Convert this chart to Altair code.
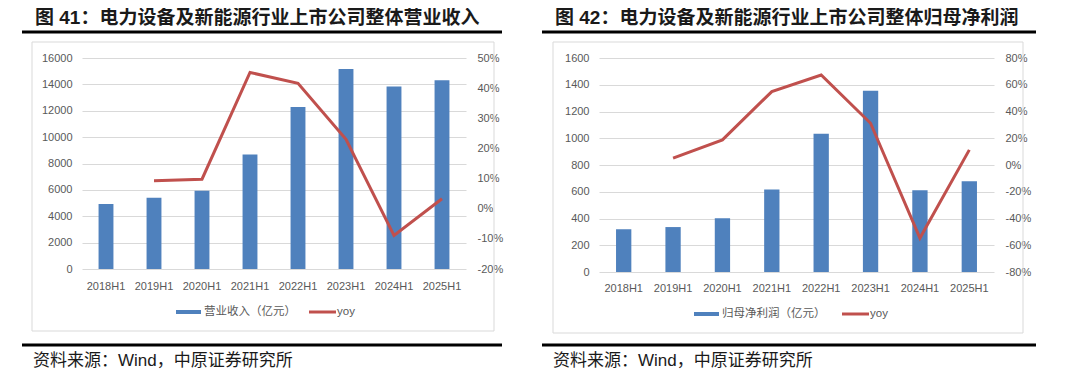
import altair as alt
import pandas as pd

# ---- data ----
periods = ["2018H1", "2019H1", "2020H1", "2021H1", "2022H1", "2023H1", "2024H1", "2025H1"]
revenue = [4930, 5410, 5940, 8690, 12290, 15160, 13840, 14320]
revenue_yoy = [None, 0.093, 0.098, 0.452, 0.416, 0.230, -0.089, 0.033]
profit = [319, 336, 401, 617, 1033, 1356, 612, 679]
profit_yoy = [None, 0.051, 0.188, 0.549, 0.673, 0.312, -0.546, 0.113]

title_1 = "图 41：电力设备及新能源行业上市公司整体营业收入"
title_2 = "图 42：电力设备及新能源行业上市公司整体归母净利润"
bar_name_1 = "营业收入（亿元）"
bar_name_2 = "归母净利润（亿元）"
line_name = "yoy"
source_text = "资料来源：Wind，中原证券研究所"

left_ticks_1 = list(range(0, 16001, 2000))
right_ticks_1 = [round(v / 10, 1) for v in range(-2, 6)]
left_ticks_2 = list(range(0, 1601, 200))
right_ticks_2 = [round(v / 10, 1) for v in range(-8, 9, 2)]

BLUE = "#4F81BD"
RED = "#C0504D"
GRID = "#D9D9D9"
LABEL = "#595959"
LATIN = "Liberation Sans"
MIXED = "Liberation Sans, Noto Sans CJK SC"
CJK = "Noto Sans CJK SC"


def deco_text(txt, x, y, size, color, font, weight="normal"):
    return alt.Chart(pd.DataFrame({"t": [txt]})).mark_text(
        align="left", baseline="middle", fontSize=size, font=font,
        fontWeight=weight, color=color
    ).encode(x=alt.value(x), y=alt.value(y), text="t:N")


def deco_rule(x1, x2, y, color, width):
    return alt.Chart(pd.DataFrame({"k": [0]})).mark_rule(
        color=color, strokeWidth=width
    ).encode(x=alt.value(x1), x2=alt.value(x2), y=alt.value(y))


def deco_rect(x1, x2, y1, y2, **kw):
    return alt.Chart(pd.DataFrame({"k": [0]})).mark_rect(**kw).encode(
        x=alt.value(x1), x2=alt.value(x2), y=alt.value(y1), y2=alt.value(y2)
    )


def panel(values, yoys, title, bar_name, lmax, lticks, rmin, rmax, rticks,
          W, H, d, anchor=False):
    df = pd.DataFrame({"period": periods, "value": values, "yoy": yoys})
    xenc = alt.X(
        "period:N", sort=periods, title="",
        scale=alt.Scale(paddingInner=0.69, paddingOuter=0.345),
        axis=alt.Axis(labelAngle=0, domain=False, ticks=False,
                      labelPadding=d["xpad"], labelColor=LABEL,
                      labelFontSize=11, labelFont=LATIN),
    )
    bars = alt.Chart(df).mark_bar(color=BLUE).encode(
        x=xenc,
        y=alt.Y("value:Q", title="",
                scale=alt.Scale(domain=[0, lmax], nice=False),
                axis=alt.Axis(values=lticks, format="d", grid=True,
                              gridColor=GRID, gridWidth=1, domain=False,
                              ticks=False, labelPadding=10, labelColor=LABEL,
                              labelFontSize=11, labelFont=LATIN)),
    )
    line = alt.Chart(df).mark_line(color=RED, strokeWidth=3).encode(
        x=alt.X("period:N", sort=periods, title=""),
        y=alt.Y("yoy:Q", title="",
                scale=alt.Scale(domain=[rmin, rmax], nice=False, zero=False),
                axis=alt.Axis(orient="right", values=rticks, grid=False,
                              labelExpr="round(datum.value*100) + '%'",
                              domain=False, ticks=False, labelPadding=11,
                              labelColor=LABEL, labelFontSize=11,
                              labelFont=LATIN)),
    )
    layers = []
    if anchor:
        layers.append(deco_rect(-74, 990, -50, 311, fill="#ffffff",
                                fillOpacity=0))
    layers += [
        deco_rect(d["bx1"], d["bx2"], -16, d["by2"], fill="transparent",
                  stroke="#D9D9D9", strokeWidth=1),
        bars,
        line,
        deco_text(title, d["tx"], -40, 19, "#1a1a1a", MIXED, "bold"),
        deco_rule(d["rx1"], d["rx2"], -26, "#000000", 3),
        deco_rule(d["rx1"], d["rx2"], 287, "#000000", 3),
        deco_rect(d["lx"], d["lx"] + 25, d["ly"] - 2, d["ly"] + 2, color=BLUE),
        deco_text(bar_name, d["lx"] + 28, d["ly"], 11.5, LABEL, CJK),
        deco_rule(d["rl"], d["rl"] + 27, d["ly"], RED, 3),
        deco_text(line_name, d["rl"] + 28, d["ly"], 11.5, LABEL, LATIN),
        deco_text(source_text, d["sx"], 302.5, 17, "#1a1a1a", MIXED),
    ]
    return alt.layer(*layers).resolve_scale(y="independent").properties(
        width=W, height=H
    )


left = panel(revenue, revenue_yoy, title_1, bar_name_1, 16000, left_ticks_1,
             -0.2, 0.5, right_ticks_1, 384, 211,
             dict(xpad=11, bx1=-50, bx2=412, by2=273, tx=-47, rx1=-60,
                  rx2=420, lx=94, ly=254, rl=227, sx=-49),
             anchor=True)
right = panel(profit, profit_yoy, title_2, bar_name_2, 1600, left_ticks_2,
              -0.8, 0.8, right_ticks_2, 395, 214,
              dict(xpad=10, bx1=-46, bx2=424, by2=275, tx=-44, rx1=-57,
                   rx2=437, lx=95, ly=256, rl=243, sx=-46))

chart = alt.hconcat(left, right, spacing=133, bounds="flush").properties(
    padding=0, background="white"
).configure_view(strokeWidth=0)

chart.save("out.html", embed_options={"renderer": "svg", "actions": False})
